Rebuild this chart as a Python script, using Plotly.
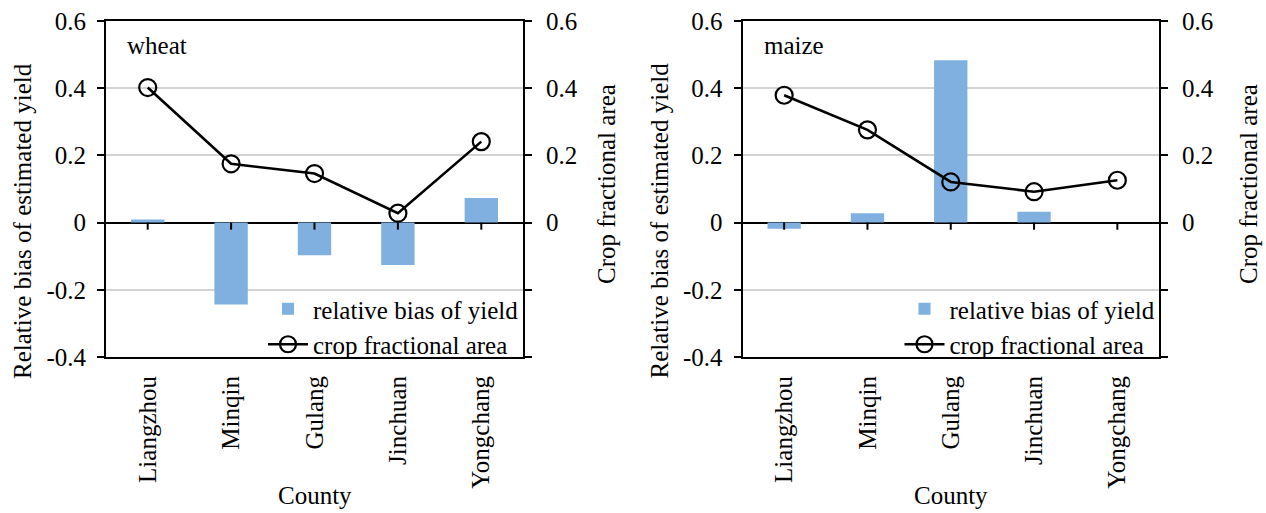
import plotly.graph_objects as go

counties = ["Liangzhou", "Minqin", "Gulang", "Jinchuan", "Yongchang"]
wheat_bias = [0.009, -0.244, -0.097, -0.126, 0.073]
wheat_area = [0.402, 0.175, 0.146, 0.028, 0.241]
maize_bias = [-0.018, 0.028, 0.483, 0.032, 0.0]
maize_area = [0.379, 0.276, 0.121, 0.092, 0.126]
panel_names = ["wheat", "maize"]
left_ticks = [-0.4, -0.2, 0, 0.2, 0.4, 0.6]
left_ticktext = ["-0.4", "-0.2", "0", "0.2", "0.4", "0.6"]
right_ticktext = ["", "", "0", "0.2", "0.4", "0.6"]

W, H = 1266, 513
SERIF = "Liberation Serif"
FS = 25
BAR_COLOR = "#7FB0E0"

panels_px = [(106, 523), (742.5, 1159)]
right_title_off = [83, 89]
top_px, bot_px = 21, 357
ydom = [1 - bot_px / H, 1 - top_px / H]

fig = go.Figure()
data_sets = [(wheat_bias, wheat_area), (maize_bias, maize_area)]
annotations = []
shapes = []

for i, ((x0, x1), (bias, area), name) in enumerate(zip(panels_px, data_sets, panel_names)):
    xa = "x" if i == 0 else "x2"
    ya_left = "y" if i == 0 else "y3"
    ya_right = "y2" if i == 0 else "y4"
    leg = "legend" if i == 0 else "legend2"
    fig.add_trace(go.Bar(x=counties, y=bias, xaxis=xa, yaxis=ya_left,
                         marker=dict(color=BAR_COLOR, line=dict(width=0)),
                         name="relative bias of yield", legend=leg))
    fig.add_trace(go.Scatter(x=counties, y=area, xaxis=xa, yaxis=ya_right,
                             mode="lines+markers",
                             line=dict(color="black", width=2.6),
                             marker=dict(symbol="circle-open", size=17, color="black",
                                         line=dict(width=2.2, color="black")),
                             name="crop fractional area", legend=leg))
    xdom = [x0 / W, x1 / W]
    axis_common = dict(showline=True, linecolor="black", linewidth=2)
    fig.layout[("xaxis" if i == 0 else "xaxis2")] = dict(
        domain=xdom, anchor=ya_left, type="category", ticks="",
        tickangle=-90, tickfont=dict(family=SERIF, size=FS, color="black"),
        mirror=True, automargin=False, ticklabelstandoff=7, **axis_common)
    fig.layout[("yaxis" if i == 0 else "yaxis3")] = dict(
        domain=ydom, anchor=xa, range=[-0.4, 0.6], tickvals=left_ticks,
        ticktext=left_ticktext, ticks="outside", ticklen=7, tickwidth=2,
        tickcolor="black", showgrid=True, gridcolor="#D3D3D3", gridwidth=1.5,
        zeroline=True, zerolinecolor="black", zerolinewidth=2.2,
        tickfont=dict(family=SERIF, size=FS, color="black"),
        ticklabelstandoff=6, automargin=False, **axis_common)
    fig.layout[("yaxis2" if i == 0 else "yaxis4")] = dict(
        overlaying=ya_left, anchor=xa, side="right", range=[-0.4, 0.6],
        tickvals=left_ticks, ticktext=right_ticktext, ticks="outside",
        ticklen=7, tickwidth=2, tickcolor="black", showgrid=False,
        zeroline=False, tickfont=dict(family=SERIF, size=FS, color="black"),
        ticklabelstandoff=9, automargin=False, **axis_common)
    fig.layout[leg] = dict(
        x=(x0 + 157) / W, y=1 - 286 / H, xanchor="left", yanchor="top",
        bgcolor="rgba(0,0,0,0)", font=dict(family=SERIF, size=FS, color="black"),
        tracegroupgap=0, itemwidth=40)
    cx = (x0 + x1) / 2
    annotations += [
        dict(text=name, x=(x0 + 19) / W, y=1 - 45 / H, xref="paper", yref="paper",
             xanchor="left", yanchor="middle", showarrow=False,
             font=dict(family=SERIF, size=FS, color="black")),
        dict(text="County", x=cx / W, y=1 - 495 / H, xref="paper", yref="paper",
             xanchor="center", yanchor="middle", showarrow=False,
             font=dict(family=SERIF, size=FS, color="black")),
        dict(text="Relative bias of estimated yield", x=(x0 - 84) / W, y=1 - 221 / H,
             xref="paper", yref="paper", xanchor="center", yanchor="middle",
             textangle=-90, showarrow=False,
             font=dict(family=SERIF, size=FS, color="black")),
        dict(text="Crop fractional area", x=(x1 + right_title_off[i]) / W, y=1 - 184 / H,
             xref="paper", yref="paper", xanchor="center", yanchor="middle",
             textangle=-90, showarrow=False,
             font=dict(family=SERIF, size=FS, color="black")),
    ]
    for c in counties:
        shapes.append(dict(type="line", xref=xa, yref=ya_left, x0=c, x1=c,
                           y0=0, y1=-0.021, line=dict(color="black", width=2)))

fig.update_layout(
    width=W, height=H, autosize=False,
    margin=dict(l=0, r=0, t=0, b=0),
    paper_bgcolor="white", plot_bgcolor="white",
    bargap=0.6, showlegend=True,
    annotations=annotations, shapes=shapes,
)

fig.write_html("out.html", config={"displayModeBar": False},
               post_script="document.body.style.margin='0';")
